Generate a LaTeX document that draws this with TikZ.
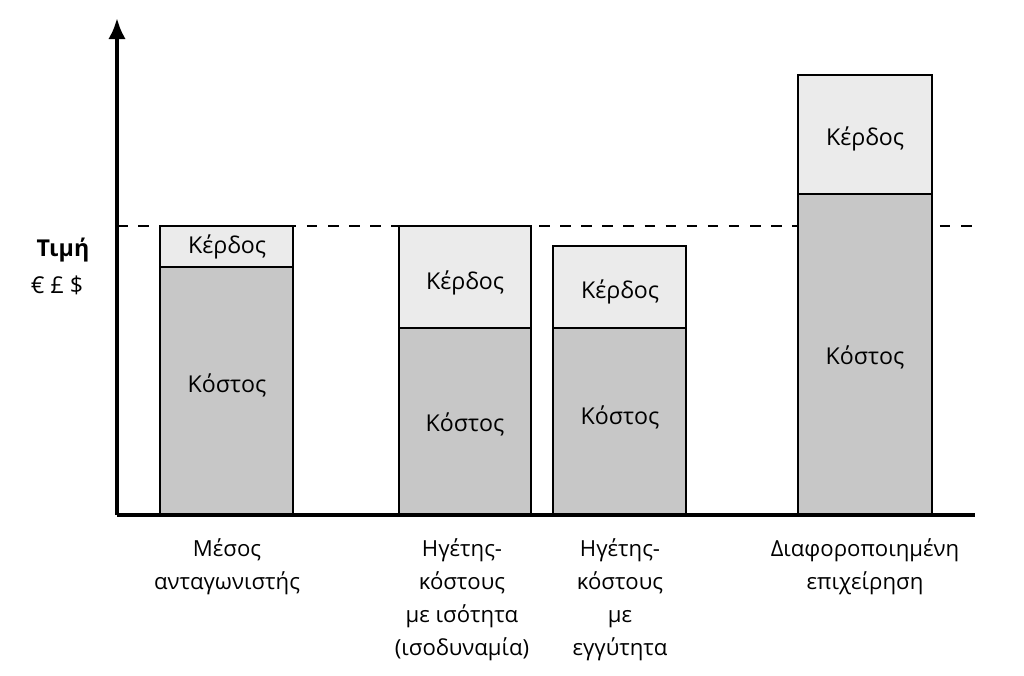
\documentclass[tikz,border=0pt]{standalone}
\usepackage{fontspec}
\setmainfont{Open Sans}
\usetikzlibrary{arrows.meta}
\begin{document}
\begin{tikzpicture}[x=0.01cm,y=-0.01cm,
  cost/.style={draw,line width=0.8pt,fill=black!22},
  profit/.style={draw,line width=0.8pt,fill=black!8},
  lbl/.style={font=\fontsize{6.6}{9.4}\selectfont},
  captext/.style={font=\fontsize{6.3}{9.4}\selectfont,align=center,anchor=north}]
\useasboundingbox (0,0) rectangle (1024,675);
\draw[dashed,line width=0.4pt] (117,226) -- (975,226);
% bars
\draw[cost] (160,267) rectangle (293,515); \draw[profit] (160,226) rectangle (293,267);
\draw[cost] (399,328) rectangle (531,515); \draw[profit] (399,226) rectangle (531,328);
\draw[cost] (553,328) rectangle (686,515); \draw[profit] (553,246) rectangle (686,328);
\draw[cost] (798,194) rectangle (932,515); \draw[profit] (798,75) rectangle (932,194);
\node[lbl] (p1) at (227,247) {Κέρδος}; \node[lbl] (c1) at (227,385) {Κόστος};
\node[lbl] (p2) at (465,283) {Κέρδος}; \node[lbl] (c2) at (465,424) {Κόστος};
\node[lbl] (p3) at (620,292) {Κέρδος}; \node[lbl] (c3) at (620,417) {Κόστος};
\node[lbl] (p4) at (865,139) {Κέρδος}; \node[lbl] (c4) at (865,357) {Κόστος};
% axes
\coordinate (o) at (117,515); \coordinate (top) at (117,18); \coordinate (right) at (975,515);
\draw[line width=1.1pt,-{Latex[length=6pt,width=5pt]}] (o) -- (top);
\draw[line width=1.1pt] (o) -- (right);
\node[lbl,font=\fontsize{6.6}{9.4}\selectfont\bfseries] (t) at (63,250) {Τιμή};
\node[lbl] (cur) at (57,285) {€ £ \$};
\node[captext] (l1) at (227,526) {Μέσος\\ανταγωνιστής};
\node[captext] (l2) at (462,526) {Ηγέτης-\\κόστους\\με ισότητα\\(ισοδυναμία)};
\node[captext] (l3) at (620,526) {Ηγέτης-\\κόστους\\με\\εγγύτητα};
\node[captext] (l4) at (865,526) {Διαφοροποιημένη\\επιχείρηση};
\end{tikzpicture}
\end{document}
